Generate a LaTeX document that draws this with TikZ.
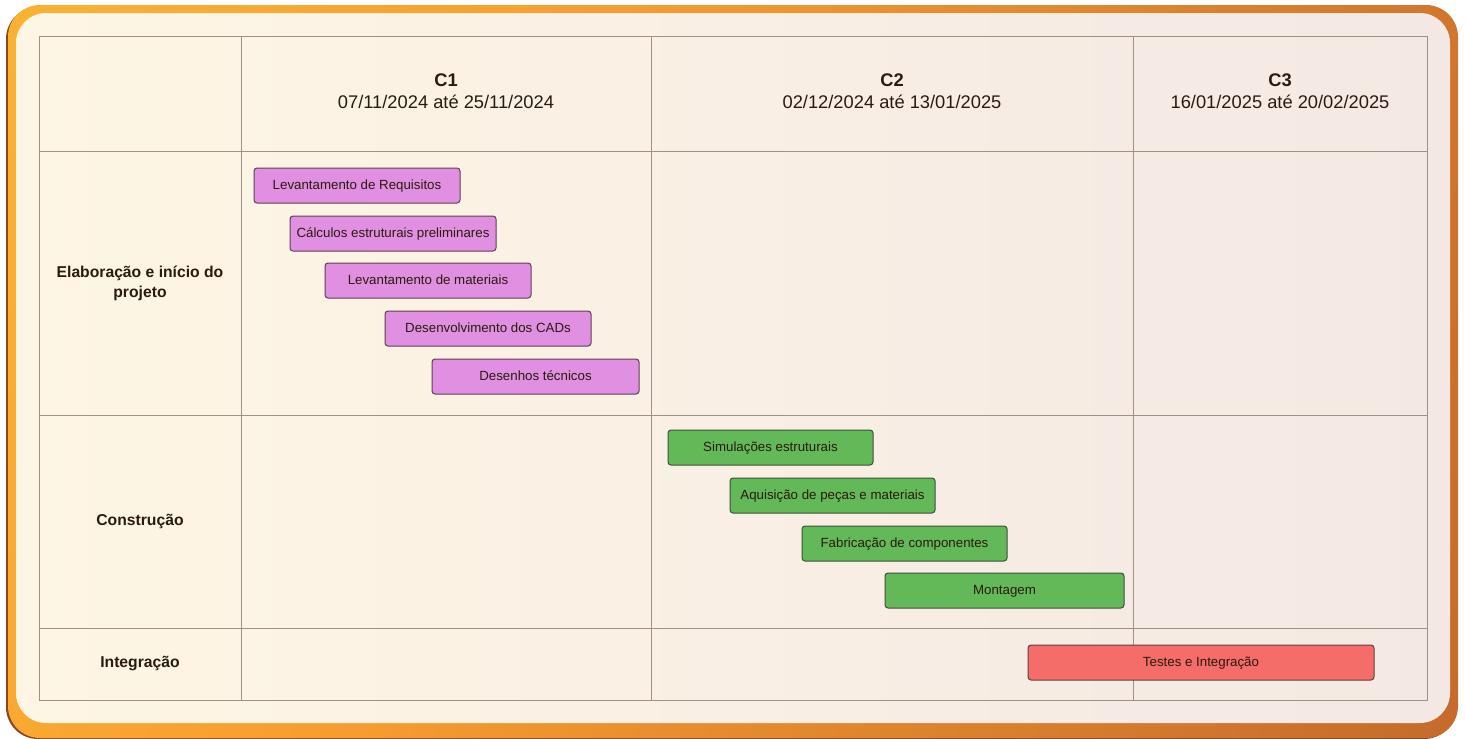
\documentclass[tikz,border=0pt]{standalone}
\usepackage{fontspec}
\setmainfont{Liberation Sans}
\definecolor{txt}{HTML}{2A1A10}
\definecolor{gridc}{HTML}{A09282}
\definecolor{pinkf}{HTML}{E18FE1}
\definecolor{pinkd}{HTML}{5A4250}
\definecolor{greenf}{HTML}{63B958}
\definecolor{greend}{HTML}{3C5038}
\definecolor{redf}{HTML}{F46D68}
\definecolor{redd}{HTML}{5E4040}
\definecolor{fy}{HTML}{FFC233}
\definecolor{fm}{HTML}{F79D30}
\definecolor{fb}{HTML}{B0552A}
\definecolor{pl}{HTML}{FEF6E4}
\definecolor{pr}{HTML}{F4E8E4}
\pgfdeclarehorizontalshading{frameshade}{100bp}{color(0bp)=(fy); color(40bp)=(fm); color(100bp)=(fb)}
\begin{document}
\begin{tikzpicture}[x=1pt,y=-1pt,
  task/.style={draw, line width=1pt, rounded corners=3pt, inner sep=0pt, outer sep=0pt,
    minimum height=35pt, text height=9.6pt, text depth=1pt, text=txt, font=\fontsize{13.3}{15}\selectfont},
  pinktask/.style={task, fill=pinkf, draw=pinkd},
  greentask/.style={task, fill=greenf, draw=greend},
  redtask/.style={task, fill=redf, draw=redd},
  head/.style={align=center, text=txt, font=\fontsize{18.3}{22}\selectfont},
  rowlab/.style={align=center, text=txt, font=\fontsize{15.7}{20}\selectfont\bfseries},
  gridline/.style={draw=gridc, line width=1pt}]
\useasboundingbox (0,0) rectangle (1465,739);
\fill[white] (0,0) rectangle (1465,739);
% frame
\fill[fb!80!black, rounded corners=32pt] (6,7) rectangle (1456,739);
\shade[shading=frameshade, shading angle=-20, rounded corners=32pt] (8,5) rectangle (1458,738);
\shade[left color=pl, right color=pr, rounded corners=30pt] (16,13) rectangle (1450,723);
% grid
\draw[gridline] (39,36) rectangle (1427,700);
\foreach \x in {241,651,1133} \draw[gridline] (\x,36) -- (\x,700);
\foreach \y in {151,415,628} \draw[gridline] (39,\y) -- (1427,\y);
% headers
\node[head] (c1) at (446,91) {\textbf{C1}\\07/11/2024 até 25/11/2024};
\node[head] (c2) at (892,91) {\textbf{C2}\\02/12/2024 até 13/01/2025};
\node[head] (c3) at (1280,91) {\textbf{C3}\\16/01/2025 até 20/02/2025};
% row labels
\node[rowlab] (r1) at (140,283.5) {Elaboração e início do\\projeto};
\node[rowlab] (r2) at (140,521) {Construção};
\node[rowlab] (r3) at (140,663) {Integração};
% tasks
\node[pinktask, minimum width=206pt] (t1) at (357,185.5) {Levantamento de Requisitos};
\node[pinktask, minimum width=206pt] (t2) at (393,233.5) {Cálculos estruturais preliminares};
\node[pinktask, minimum width=206pt] (t3) at (428,280.5) {Levantamento de materiais};
\node[pinktask, minimum width=206pt] (t4) at (488,328.5) {Desenvolvimento dos CADs};
\node[pinktask, minimum width=207pt] (t5) at (535.5,376.5) {Desenhos técnicos};
\node[greentask, minimum width=205pt] (g1) at (770.5,447.5) {Simulações estruturais};
\node[greentask, minimum width=205pt] (g2) at (832.5,495.5) {Aquisição de peças e materiais};
\node[greentask, minimum width=205pt] (g3) at (904.5,543.5) {Fabricação de componentes};
\node[greentask, minimum width=239pt] (g4) at (1004.5,590.5) {Montagem};
\node[redtask, minimum width=346pt] (i1) at (1201,662.5) {Testes e Integração};
\end{tikzpicture}
\end{document}
